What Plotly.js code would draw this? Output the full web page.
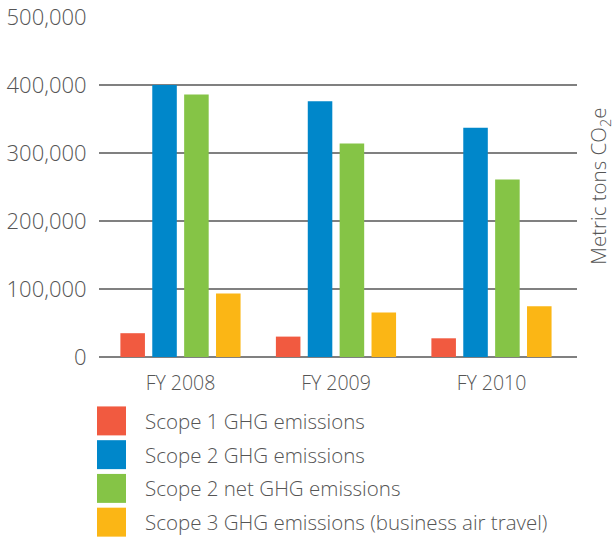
<!DOCTYPE html>
<html><head><meta charset="utf-8">
<script src="https://cdn.plot.ly/plotly-3.0.1.min.js"></script>
<style>html,body{margin:0;padding:0;background:#fff;}#chart{width:615px;height:537px;}</style>
</head><body><div id="chart"></div>
<script>
const categories = ["FY 2008", "FY 2009", "FY 2010"];
const seriesNames = [
  "Scope 1 GHG emissions",
  "Scope 2 GHG emissions",
  "Scope 2 net GHG emissions",
  "Scope 3 GHG emissions (business air travel)"
];
const scope1 = [35000, 30000, 27500];
const scope2 = [400000, 376000, 337000];
const scope2net = [386000, 314000, 261000];
const scope3 = [93500, 65500, 74500];
const seriesColors = ["#F15A40", "#0087CA", "#85C446", "#FBB615"];
const yTickVals = [0, 100000, 200000, 300000, 400000, 500000];
const yTitle = "Metric tons CO<sub>2</sub>e";

const allValues = [scope1, scope2, scope2net, scope3];
const FONT = "'Open Sans', Lato, sans-serif";
const TXT = "#555555";

const traces = allValues.map((vals, i) => ({
  type: "bar", x: categories, y: vals, name: seriesNames[i],
  marker: {color: seriesColors[i], line: {width: 0}},
  showlegend: false, hoverinfo: "x+y"
}));

const shapes = [];
const annotations = [];
const legTop = 407, legPitch = 33.8, sq = 29, legX = 97, txtX = 143, H = 537, W = 615;
seriesNames.forEach((n, i) => {
  const y0 = legTop + i * legPitch;
  shapes.push({type: "rect", xref: "paper", yref: "paper",
    x0: (legX - 99) / (577 - 99), x1: (legX + sq - 99) / (577 - 99),
    y0: 1 - (y0 + sq - 17) / 340.5, y1: 1 - (y0 - 17) / 340.5,
    fillcolor: seriesColors[i], line: {width: 0}, layer: "above"});
  annotations.push({xref: "paper", yref: "paper",
    x: (txtX - 99) / (577 - 99), y: 1 - (y0 + sq / 2 - 17) / 340.5,
    xanchor: "left", yanchor: "middle", showarrow: false, text: n,
    font: {family: FONT, size: 20.5, color: TXT, weight: 300}});
});
annotations.push({xref: "paper", yref: "paper", x: (599 - 99) / (577 - 99), y: 1 - (187 - 17) / 340.5,
  xanchor: "center", yanchor: "middle", showarrow: false, textangle: -90, text: yTitle,
  font: {family: FONT, size: 20.5, color: TXT, weight: 300}});

const layout = {
  width: W, height: H,
  margin: {l: 99, r: 38, t: 17, b: 180, pad: 0},
  paper_bgcolor: "#ffffff", plot_bgcolor: "#ffffff",
  font: {family: FONT, color: TXT, weight: 300},
  barmode: "group", bargap: 0.18, bargroupgap: 0.23,
  xaxis: {type: "category", range: [-0.524, 2.55], showgrid: false, zeroline: false,
    showline: false, ticks: "outside", ticklen: 9, tickcolor: "rgba(0,0,0,0)",
    tickfont: {family: FONT, size: 19.5, color: TXT, weight: 300}, fixedrange: true},
  yaxis: {range: [0, 500000], tickvals: yTickVals, tickformat: ",d",
    showgrid: true, gridcolor: "#808080", gridwidth: 1.5, zeroline: true, zerolinecolor: "#808080", zerolinewidth: 1.5,
    showline: false, ticks: "outside", ticklen: 7, tickcolor: "rgba(0,0,0,0)",
    tickfont: {family: FONT, size: 22, color: TXT, weight: 300}, fixedrange: true},
  shapes: shapes, annotations: annotations
};
Plotly.newPlot("chart", traces, layout, {displayModeBar: false, staticPlot: true});
</script></body></html>
